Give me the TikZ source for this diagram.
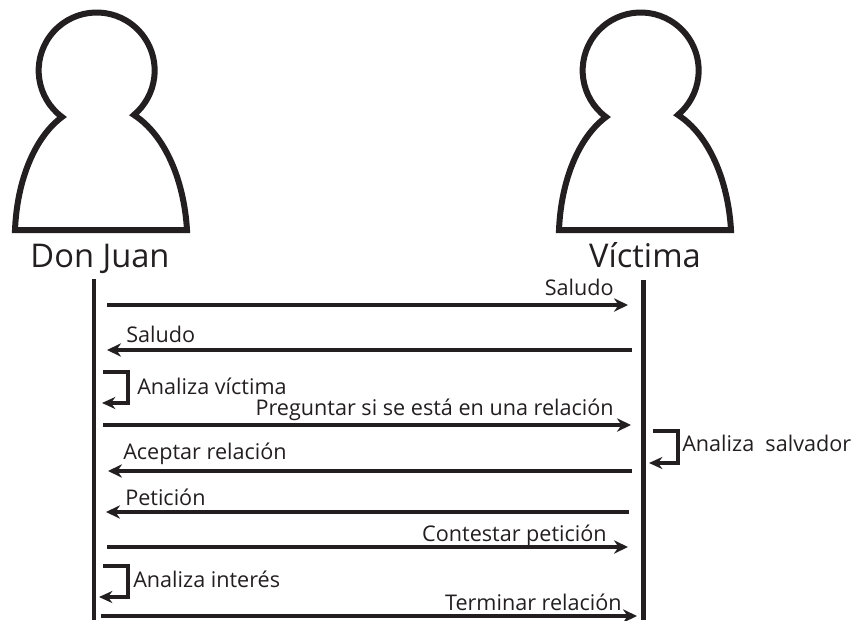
\documentclass[tikz,border=0pt]{standalone}
\usepackage{fontspec}
\setmainfont{Open Sans}
\usetikzlibrary{arrows.meta}
\definecolor{inkblack}{HTML}{231F20}
\tikzset{
	msg/.style={draw=inkblack, line width=3.4pt, -{Stealth[length=10.5pt,width=10pt]}},
	selfmsg/.style={draw=inkblack, line join=miter, -{Stealth[length=10pt,width=9pt]}},
	life/.style={draw=inkblack, line width=3.6pt},
	lbl/.style={font=\fontsize{16.2}{16}\selectfont, text=inkblack, inner sep=0pt},
	who/.style={font=\fontsize{24.5}{25}\selectfont, text=inkblack, inner sep=0pt, anchor=base}
}
\begin{document}
\begin{tikzpicture}[x=.75pt, y=-.75pt]
	\useasboundingbox (0,0) rectangle (855,620);
	\foreach \t in {0,544}{
		\begin{scope}[xshift=\t*.75pt]
		\draw[draw=inkblack, line width=4.5pt, line join=miter, miter limit=10]
			(15,230) .. controls (17,180) and (35,137) .. (62,117)
			arc (126.7:410:58)
			.. controls (165,135) and (184,180) .. (187,230) -- cycle;
		\end{scope}
	}
	\node[who] (donname) at (100,267) {Don Juan};
	\node[who] (vicname) at (645,267) {Víctima};
	% lifelines
	\path (94,279) coordinate (DT) (94,620) coordinate (DB)
	(643.7,280) coordinate (VT) (643.7,620) coordinate (VB);
	\draw[life] (DT)--(DB);
	\draw[life] (VT)--(VB);
	% messages
	\foreach \n/\a/\b/\y in {s/107/628/305, r/632/107/350, p/103/631/425, a/632/108/471, t/629/106/512, c/107/628/547, f/101/637/616}{
		\path (\a,\y) coordinate (\n1) (\b,\y) coordinate (\n2);
		\draw[msg] (\n1)--(\n2);
	}
	\path (103,372) coordinate (A1) (128,372) coordinate (A2) (128,403) coordinate (A3) (102,403) coordinate (A4)
	(103,566) coordinate (B1) (128,566) coordinate (B2) (128,597) coordinate (B3) (99,597) coordinate (B4)
	(653,431) coordinate (C1) (678,431) coordinate (C2) (678,463) coordinate (C3) (649,463) coordinate (C4);
	\foreach \t/\g in {A/2.6pt,B/3.6pt,C/3.2pt}{
		\draw[selfmsg, line width=\g] (\t1)--(\t2)--(\t3)--(\t4);
	}
	% labels
	\node[lbl, anchor=base east] (l1) at (614,295) {Saludo};
	\node[lbl, anchor=base west] (l2) at (126,342) {Saludo};
	\node[lbl, anchor=base west] (l3) at (137,394) {Analiza víctima};
	\node[lbl, anchor=base east] (l4) at (614,415) {Preguntar si se está en una relación};
	\node[lbl, anchor=base west] (l5) at (123,459) {Aceptar relación};
	\node[lbl, anchor=base west] (l6) at (125,505) {Petición};
	\node[lbl, anchor=base east] (l7) at (607,541) {Contestar petición};
	\node[lbl, anchor=base west] (l8) at (133,587) {Analiza interés};
	\node[lbl, anchor=base east] (l9) at (622,610) {Terminar relación};
	\node[lbl, anchor=base west] (l10) at (682,451) {Analiza\ \ salvador};
\end{tikzpicture}
\end{document}
